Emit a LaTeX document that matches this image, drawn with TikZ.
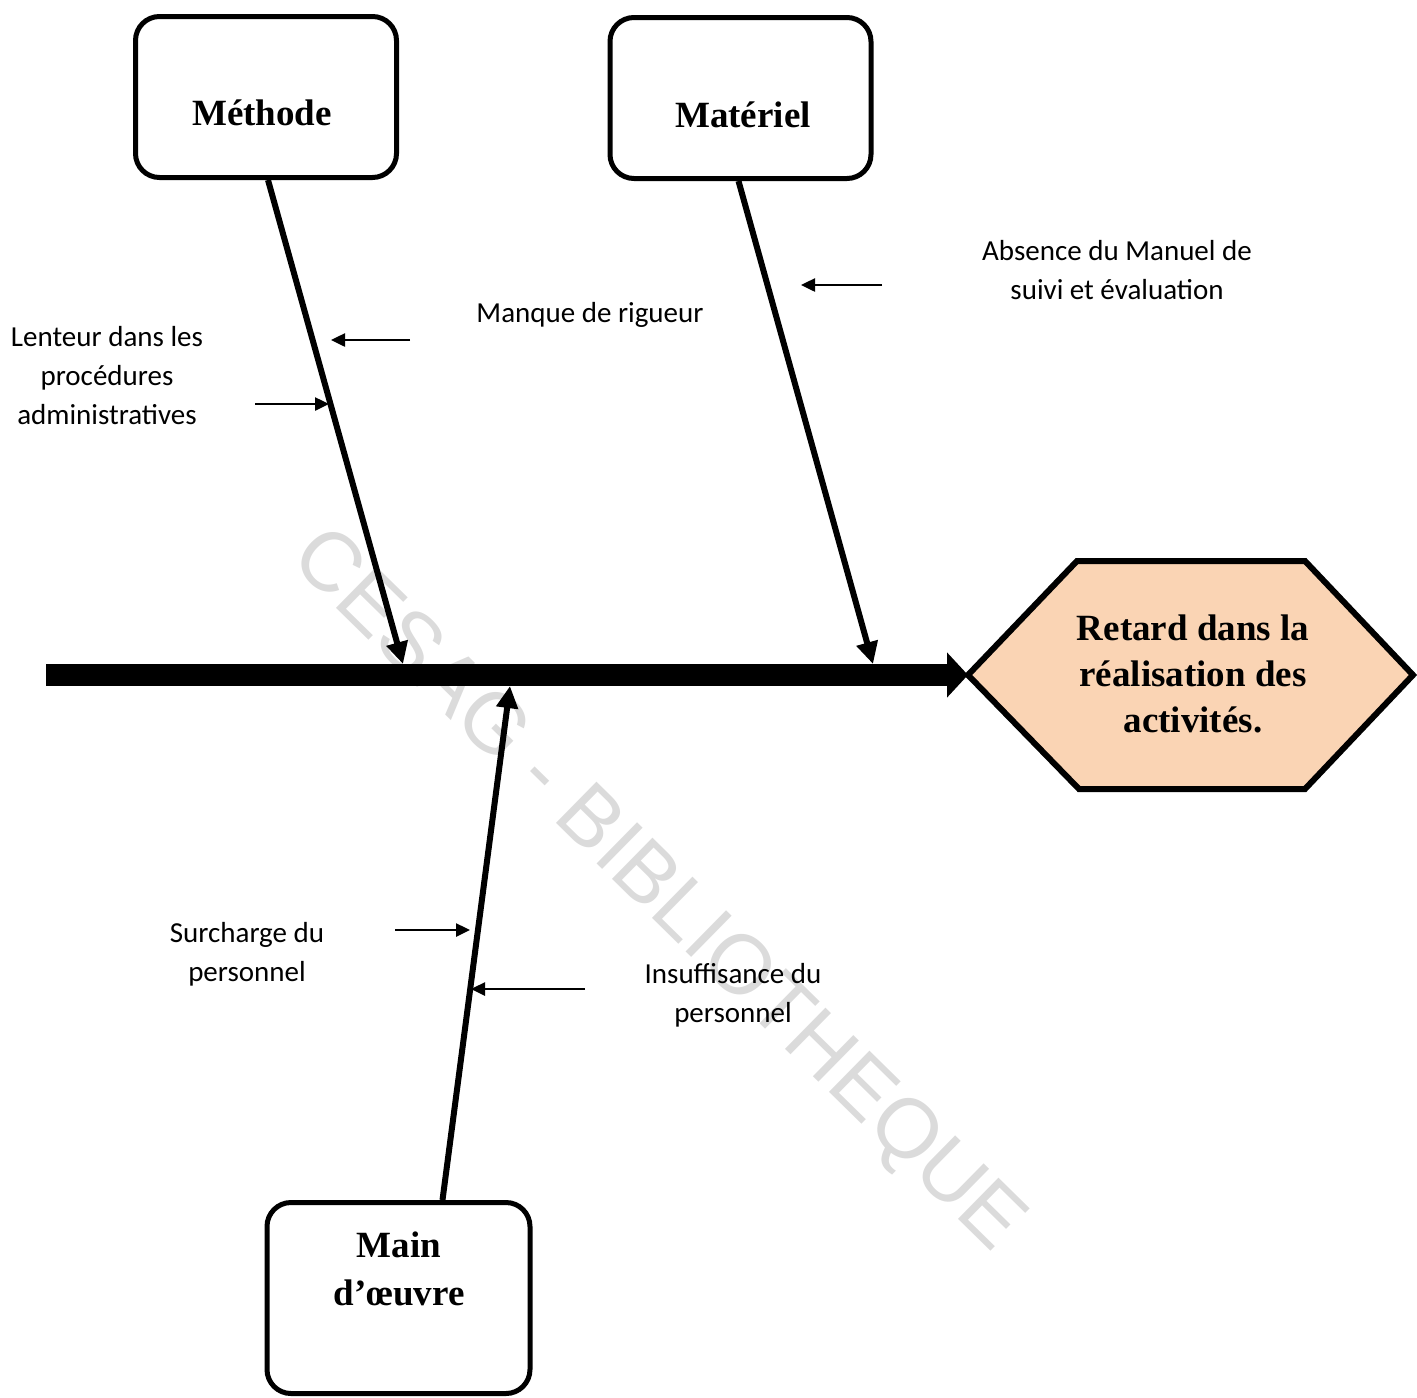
\documentclass[tikz,border=0pt]{standalone}
\usepackage{fontspec}
\setmainfont{Liberation Serif}
\newfontfamily\lblfont{Carlito}
\newfontfamily\wmfont{Liberation Sans}
\usetikzlibrary{arrows.meta}
\definecolor{peach}{HTML}{FAD4B4}
\definecolor{wmgray}{HTML}{DBDBDB}
\begin{document}
\begin{tikzpicture}[x=1pt,y=-1pt,
  catbox/.style={draw,line width=5pt,rounded corners=24pt,minimum width=261pt,
    minimum height=161pt,inner sep=0pt},
  headtxt/.style={align=center,inner sep=0pt,font=\fontsize{37}{46}\selectfont\bfseries},
  lbl/.style={align=center,inner sep=0pt,font=\lblfont\fontsize{29}{39}\selectfont},
  bone/.style={line width=6pt,-{Triangle[length=22pt,width=21pt]}},
  cause/.style={line width=2.5pt,-{Triangle[length=14pt,width=13pt]}},
  spine/.style={line width=22pt,-{Triangle[length=21pt,width=44pt]}}]
\useasboundingbox (0,0) rectangle (1417,1398);

% watermark
\node[rotate=-44.5,text=wmgray,inner sep=0pt,font=\wmfont\fontsize{84}{90}\selectfont] (wm) at (656,892) {CESAG - BIBLIOTHEQUE};

% category boxes
\node[catbox] (met) at (266,97) {};
\node[headtxt] (mettxt) at (262,113) {Méthode};
\node[catbox] (mat) at (740.5,98) {};
\node[headtxt] (mattxt) at (743,115) {Matériel};
\node[catbox,minimum width=263pt,minimum height=191pt] (mo) at (398.5,1298) {};
\node[headtxt,font=\fontsize{37}{48}\selectfont\bfseries] (motxt) at (399,1269) {Main\\d’œuvre};

% effect hexagon
\draw[line width=6pt,fill=peach,line join=miter]
  (968,675) coordinate (hexL) -- (1077,561) coordinate (hexTL) -- (1305,561) coordinate (hexTR)
  -- (1413,675) coordinate (hexR) -- (1305,789) coordinate (hexBR) -- (1079,789) coordinate (hexBL) -- cycle;
\node[headtxt] (effect) at (1193,674) {Retard dans la\\réalisation des\\activités.};

% spine
\coordinate (tail) at (46,675);
\draw[spine] (tail) -- (hexL);

% bones
\coordinate (mJ) at (403,664);
\coordinate (tJ) at (873,664);
\coordinate (oJ) at (510,686);
\draw[bone] ([xshift=2pt]met.south) -- (mJ);
\draw[bone] ([xshift=-2pt]mat.south) -- (tJ);
\draw[bone] ([xshift=44pt]mo.north) -- (oJ);

% causes
\node[lbl] (c1) at (590,315) {Manque de rigueur};
\node[lbl] (c2) at (107,376) {Lenteur dans les\\procédures\\administratives};
\node[lbl] (c3) at (1117,270) {Absence du Manuel de\\suivi et évaluation};
\node[lbl] (c4) at (247,954) {Surcharge du\\personnel};
\node[lbl] (c5) at (733,995) {Insuffisance du\\personnel};

\coordinate (a1s) at (410,340); \coordinate (a1e) at (331,340);
\coordinate (a2s) at (255,404); \coordinate (a2e) at (329,404);
\coordinate (a3s) at (882,285); \coordinate (a3e) at (801,285);
\coordinate (a4s) at (395,930); \coordinate (a4e) at (470,930);
\coordinate (a5s) at (585,989); \coordinate (a5e) at (471,989);
\draw[cause] (a1s) -- (a1e);
\draw[cause] (a2s) -- (a2e);
\draw[cause] (a3s) -- (a3e);
\draw[cause] (a4s) -- (a4e);
\draw[cause] (a5s) -- (a5e);
\end{tikzpicture}
\end{document}
